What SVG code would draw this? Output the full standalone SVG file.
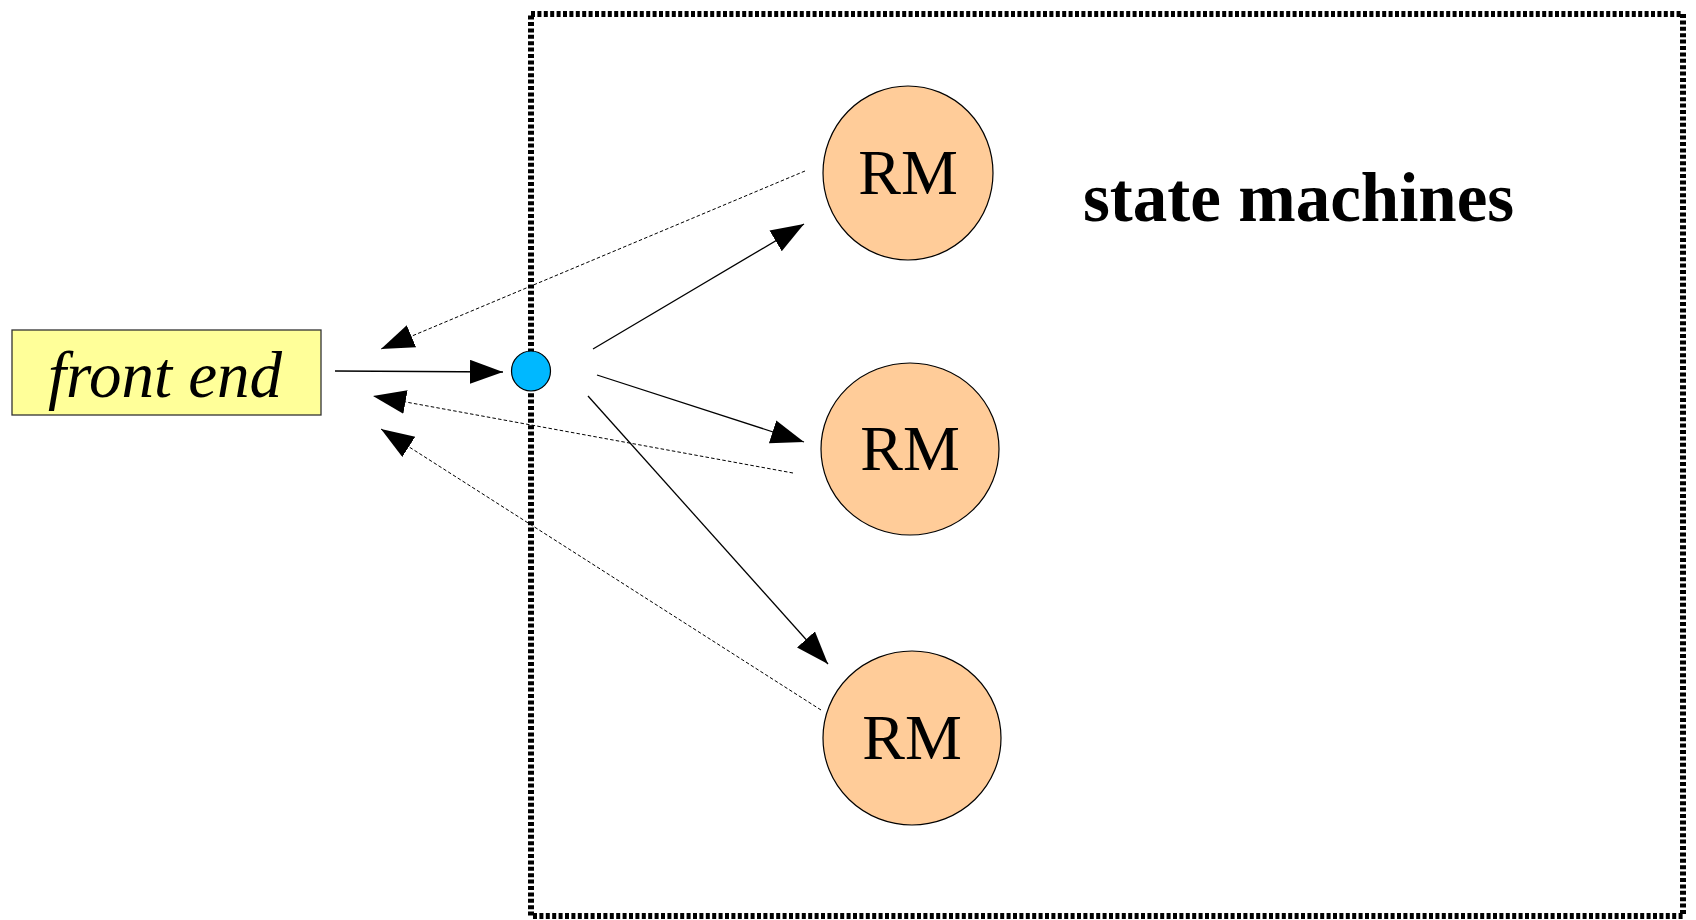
<svg xmlns="http://www.w3.org/2000/svg" width="1696" height="920" viewBox="0 0 1696 920">
<style>
.frame{fill:none;stroke:#000;stroke-width:6;stroke-dasharray:4 2.4}
.rm{fill:#ffcc99;stroke:#000;stroke-width:1.2}
.rmt{font-family:"Liberation Serif",serif;font-size:64px;text-anchor:middle;fill:#000}
.solid{fill:none;stroke:#000;stroke-width:1.3}
.dash{fill:none;stroke:#000;stroke-width:1;stroke-dasharray:3.5 2.2}
</style>
<defs>
<marker id="ah" markerUnits="userSpaceOnUse" markerWidth="34" markerHeight="26" refX="33" refY="12" orient="auto">
<path d="M0,0 L33,12 L0,24 z" fill="#000" stroke="none"/>
</marker>
</defs>
<rect width="1696" height="920" fill="#fff"/>
<rect class="frame" x="531" y="14" width="1152" height="902"/>
<text x="1083" y="221" font-family="Liberation Serif, serif" font-size="69" font-weight="bold" fill="#000">state machines</text>
<g id="connectors">
<line class="solid" x1="335" y1="371" x2="503" y2="372" marker-end="url(#ah)"/>
<line class="solid" x1="593" y1="349" x2="804" y2="224" marker-end="url(#ah)"/>
<line class="solid" x1="597" y1="375" x2="804" y2="442" marker-end="url(#ah)"/>
<line class="solid" x1="588" y1="396" x2="828" y2="664" marker-end="url(#ah)"/>
<line class="dash" x1="805" y1="171" x2="381" y2="349" marker-end="url(#ah)"/>
<line class="dash" x1="793" y1="473" x2="373" y2="396" marker-end="url(#ah)"/>
<line class="dash" x1="821" y1="710" x2="381" y2="429" marker-end="url(#ah)"/>
</g>
<g id="frontend">
<rect x="12" y="330" width="309" height="85" fill="#ffff99" stroke="#333" stroke-width="1.3"/>
<text x="165" y="397" font-family="'Liberation Serif', serif" font-style="italic" font-size="65" text-anchor="middle" fill="#000">front end</text>
</g>
<g id="hub">
<ellipse cx="531" cy="371" rx="19.5" ry="20" fill="#00b8ff" stroke="#000" stroke-width="1.2"/>
</g>
<g id="rm1">
<ellipse class="rm" cx="908" cy="173" rx="85" ry="87"/>
<text class="rmt" x="908" y="194">RM</text>
</g>
<g id="rm2">
<ellipse class="rm" cx="910" cy="449" rx="89" ry="86"/>
<text class="rmt" x="910" y="470">RM</text>
</g>
<g id="rm3">
<ellipse class="rm" cx="912" cy="738" rx="89" ry="87"/>
<text class="rmt" x="912" y="759">RM</text>
</g>
</svg>
